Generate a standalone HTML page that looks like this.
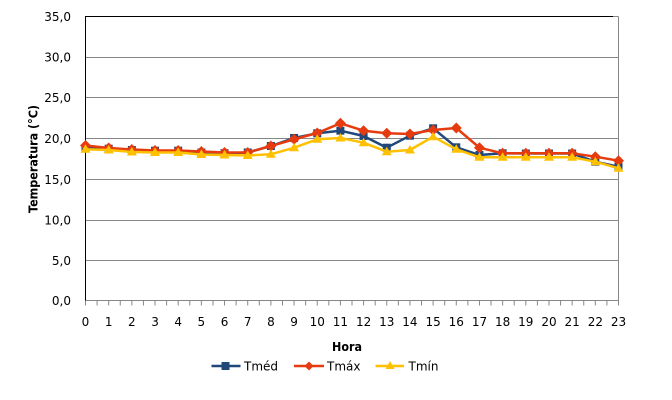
<!DOCTYPE html>
<html><head><meta charset="utf-8"><style>
html,body{margin:0;padding:0;background:#fff;}
svg{display:block;}
text{font-family:"DejaVu Sans","Liberation Sans",sans-serif;fill:#000;}
</style></head><body>
<svg width="672" height="400" viewBox="0 0 672 400" xmlns="http://www.w3.org/2000/svg">
<rect width="672" height="400" fill="#fff"/>
<!-- gridlines -->
<g stroke="#878787" stroke-width="1">
<line x1="85.5" y1="57.5" x2="618.5" y2="57.5"/>
<line x1="85.5" y1="97.5" x2="618.5" y2="97.5"/>
<line x1="85.5" y1="138.5" x2="618.5" y2="138.5"/>
<line x1="85.5" y1="179.5" x2="618.5" y2="179.5"/>
<line x1="85.5" y1="220.5" x2="618.5" y2="220.5"/>
<line x1="85.5" y1="260.5" x2="618.5" y2="260.5"/>
<line x1="618.5" y1="16.5" x2="618.5" y2="300.5"/>
<line x1="613" y1="16.5" x2="618.5" y2="16.5"/>
<line x1="85.5" y1="300.5" x2="618.5" y2="300.5"/>
</g>
<line x1="85.5" y1="16.5" x2="613" y2="16.5" stroke="#000" stroke-width="1"/>
<line x1="85.5" y1="16" x2="85.5" y2="301" stroke="#000" stroke-width="1"/>
<!-- x ticks -->
<g stroke="#878787" stroke-width="1">
<path d="M85.5 300.5v5M97.09 300.5v5M108.67 300.5v5M120.26 300.5v5M131.85 300.5v5M143.44 300.5v5M155.02 300.5v5M166.61 300.5v5M178.2 300.5v5M189.78 300.5v5M201.37 300.5v5M212.96 300.5v5M224.54 300.5v5M236.13 300.5v5M247.72 300.5v5M259.3 300.5v5M270.89 300.5v5M282.48 300.5v5M294.07 300.5v5M305.65 300.5v5M317.24 300.5v5M328.83 300.5v5M340.41 300.5v5M352 300.5v5M363.59 300.5v5M375.17 300.5v5M386.76 300.5v5M398.35 300.5v5M409.94 300.5v5M421.52 300.5v5M433.11 300.5v5M444.7 300.5v5M456.28 300.5v5M467.87 300.5v5M479.46 300.5v5M491.04 300.5v5M502.63 300.5v5M514.22 300.5v5M525.81 300.5v5M537.39 300.5v5M548.98 300.5v5M560.57 300.5v5M572.15 300.5v5M583.74 300.5v5M595.33 300.5v5M606.91 300.5v5M618.5 300.5v5"/>
</g>
<!-- y labels -->
<g font-size="12" text-anchor="end">
<text x="71" y="21">35,0</text>
<text x="71" y="61.5">30,0</text>
<text x="71" y="102">25,0</text>
<text x="71" y="143">20,0</text>
<text x="71" y="184">15,0</text>
<text x="71" y="224.5">10,0</text>
<text x="71" y="265">5,0</text>
<text x="71" y="305">0,0</text>
</g>
<!-- x labels -->
<g font-size="12" text-anchor="middle">
<text x="85.5" y="326">0</text><text x="108.67" y="326">1</text><text x="131.85" y="326">2</text><text x="155.02" y="326">3</text><text x="178.2" y="326">4</text><text x="201.37" y="326">5</text><text x="224.54" y="326">6</text><text x="247.72" y="326">7</text><text x="270.89" y="326">8</text><text x="294.07" y="326">9</text><text x="317.24" y="326">10</text><text x="340.41" y="326">11</text><text x="363.59" y="326">12</text><text x="386.76" y="326">13</text><text x="409.94" y="326">14</text><text x="433.11" y="326">15</text><text x="456.28" y="326">16</text><text x="479.46" y="326">17</text><text x="502.63" y="326">18</text><text x="525.81" y="326">19</text><text x="548.98" y="326">20</text><text x="572.15" y="326">21</text><text x="595.33" y="326">22</text><text x="618.5" y="326">23</text>
</g>
<!-- axis titles -->
<text x="347" y="351" font-size="12" font-weight="bold" text-anchor="middle" textLength="30" lengthAdjust="spacingAndGlyphs">Hora</text>
<text transform="translate(37.5,159) rotate(-90)" font-size="12" font-weight="bold" text-anchor="middle" textLength="108" lengthAdjust="spacingAndGlyphs">Temperatura (°C)</text>

<!-- Tméd -->
<polyline fill="none" stroke="#21487A" stroke-width="2.5" stroke-linejoin="round" points="85.5,148.3 108.67,148.7 131.85,150 155.02,150.7 178.2,150.7 201.37,152.5 224.54,153.2 247.72,152.5 270.89,146 294.07,138 317.24,133.3 340.41,130.7 363.59,136 386.76,147.7 409.94,135.7 433.11,128.3 456.28,147.3 479.46,155 502.63,153.3 525.81,153.5 548.98,153.5 572.15,153.5 595.33,161.7 618.5,166.7"/>
<g fill="#21487A">
<rect x="81.5" y="144.3" width="8" height="8"/><rect x="104.67" y="144.7" width="8" height="8"/><rect x="127.85" y="146" width="8" height="8"/><rect x="151.02" y="146.7" width="8" height="8"/><rect x="174.2" y="146.7" width="8" height="8"/><rect x="197.37" y="148.5" width="8" height="8"/><rect x="220.54" y="149.2" width="8" height="8"/><rect x="243.72" y="148.5" width="8" height="8"/><rect x="266.89" y="142" width="8" height="8"/><rect x="290.07" y="134" width="8" height="8"/><rect x="313.24" y="129.3" width="8" height="8"/><rect x="336.41" y="126.7" width="8" height="8"/><rect x="359.59" y="132" width="8" height="8"/><rect x="382.76" y="143.7" width="8" height="8"/><rect x="405.94" y="131.7" width="8" height="8"/><rect x="429.11" y="124.3" width="8" height="8"/><rect x="452.28" y="143.3" width="8" height="8"/><rect x="475.46" y="151" width="8" height="8"/><rect x="498.63" y="149.3" width="8" height="8"/><rect x="521.81" y="149.5" width="8" height="8"/><rect x="544.98" y="149.5" width="8" height="8"/><rect x="568.15" y="149.5" width="8" height="8"/><rect x="591.33" y="157.7" width="8" height="8"/><rect x="614.5" y="162.7" width="8" height="8"/>
</g>

<!-- Tmáx -->
<polyline fill="none" stroke="#E63B0E" stroke-width="2.5" stroke-linejoin="round" points="85.5,145.5 108.67,148 131.85,149.5 155.02,150.5 178.2,150.5 201.37,151.5 224.54,152.5 247.72,152.5 270.89,146 294.07,139.3 317.24,133 340.41,123.3 363.59,130.7 386.76,133.3 409.94,134 433.11,130 456.28,128 479.46,147.7 502.63,153.3 525.81,153.3 548.98,153.3 572.15,153.3 595.33,156.7 618.5,160.7"/>
<g fill="#E63B0E">
<path d="M85.5 140l5.5 5.5-5.5 5.5-5.5-5.5z"/><path d="M108.67 142.5l5.5 5.5-5.5 5.5-5.5-5.5z"/><path d="M131.85 144l5.5 5.5-5.5 5.5-5.5-5.5z"/><path d="M155.02 145l5.5 5.5-5.5 5.5-5.5-5.5z"/><path d="M178.2 145l5.5 5.5-5.5 5.5-5.5-5.5z"/><path d="M201.37 146l5.5 5.5-5.5 5.5-5.5-5.5z"/><path d="M224.54 147l5.5 5.5-5.5 5.5-5.5-5.5z"/><path d="M247.72 147l5.5 5.5-5.5 5.5-5.5-5.5z"/><path d="M270.89 140.5l5.5 5.5-5.5 5.5-5.5-5.5z"/><path d="M294.07 133.8l5.5 5.5-5.5 5.5-5.5-5.5z"/><path d="M317.24 127.5l5.5 5.5-5.5 5.5-5.5-5.5z"/><path d="M340.41 117.8l5.5 5.5-5.5 5.5-5.5-5.5z"/><path d="M363.59 125.2l5.5 5.5-5.5 5.5-5.5-5.5z"/><path d="M386.76 127.8l5.5 5.5-5.5 5.5-5.5-5.5z"/><path d="M409.94 128.5l5.5 5.5-5.5 5.5-5.5-5.5z"/><path d="M433.11 124.5l5.5 5.5-5.5 5.5-5.5-5.5z"/><path d="M456.28 122.5l5.5 5.5-5.5 5.5-5.5-5.5z"/><path d="M479.46 142.2l5.5 5.5-5.5 5.5-5.5-5.5z"/><path d="M502.63 147.8l5.5 5.5-5.5 5.5-5.5-5.5z"/><path d="M525.81 147.8l5.5 5.5-5.5 5.5-5.5-5.5z"/><path d="M548.98 147.8l5.5 5.5-5.5 5.5-5.5-5.5z"/><path d="M572.15 147.8l5.5 5.5-5.5 5.5-5.5-5.5z"/><path d="M595.33 151.2l5.5 5.5-5.5 5.5-5.5-5.5z"/><path d="M618.5 155.2l5.5 5.5-5.5 5.5-5.5-5.5z"/>
</g>

<!-- Tmín -->
<polyline fill="none" stroke="#FFC000" stroke-width="2.5" stroke-linejoin="round" points="85.5,149.3 108.67,150 131.85,152 155.02,152.5 178.2,152.5 201.37,154.5 224.54,155 247.72,155.5 270.89,154.3 294.07,147.7 317.24,139.3 340.41,138 363.59,142.7 386.76,151.7 409.94,150 433.11,136.7 456.28,149.3 479.46,157.3 502.63,157.3 525.81,157.3 548.98,157.3 572.15,157.3 595.33,161.7 618.5,168.3"/>
<g fill="#FFC000">
<path d="M85.5 144.3l5 8.5h-10z"/><path d="M108.67 145l5 8.5h-10z"/><path d="M131.85 147l5 8.5h-10z"/><path d="M155.02 147.5l5 8.5h-10z"/><path d="M178.2 147.5l5 8.5h-10z"/><path d="M201.37 149.5l5 8.5h-10z"/><path d="M224.54 150l5 8.5h-10z"/><path d="M247.72 150.5l5 8.5h-10z"/><path d="M270.89 149.3l5 8.5h-10z"/><path d="M294.07 142.7l5 8.5h-10z"/><path d="M317.24 134.3l5 8.5h-10z"/><path d="M340.41 133l5 8.5h-10z"/><path d="M363.59 137.7l5 8.5h-10z"/><path d="M386.76 146.7l5 8.5h-10z"/><path d="M409.94 145l5 8.5h-10z"/><path d="M433.11 131.7l5 8.5h-10z"/><path d="M456.28 144.3l5 8.5h-10z"/><path d="M479.46 152.3l5 8.5h-10z"/><path d="M502.63 152.3l5 8.5h-10z"/><path d="M525.81 152.3l5 8.5h-10z"/><path d="M548.98 152.3l5 8.5h-10z"/><path d="M572.15 152.3l5 8.5h-10z"/><path d="M595.33 156.7l5 8.5h-10z"/><path d="M618.5 163.3l5 8.5h-10z"/>
</g>

<!-- legend -->
<line x1="211.5" y1="366" x2="240.5" y2="366" stroke="#21487A" stroke-width="2.5"/>
<rect x="221.5" y="362" width="8" height="8" fill="#21487A"/>
<text x="244" y="370.5" font-size="12">Tméd</text>
<line x1="294" y1="366" x2="324" y2="366" stroke="#E63B0E" stroke-width="2.5"/>
<path d="M309 361.5l4.5 4.5-4.5 4.5-4.5-4.5z" fill="#E63B0E"/>
<text x="327" y="370.5" font-size="12">Tmáx</text>
<line x1="375.5" y1="366" x2="404" y2="366" stroke="#FFC000" stroke-width="2.5"/>
<path d="M390 361l4.5 8h-9z" fill="#FFC000"/>
<text x="408.5" y="370.5" font-size="12">Tmín</text>
</svg>
</body></html>
